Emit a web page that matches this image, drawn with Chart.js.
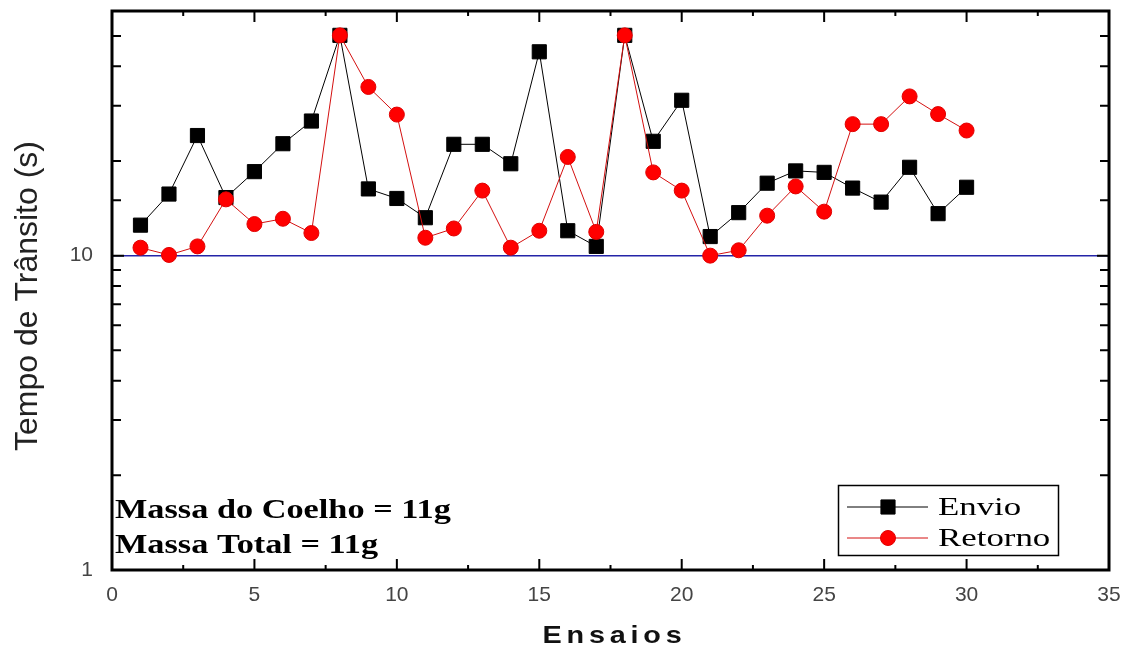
<!DOCTYPE html>
<html>
<head>
<meta charset="utf-8">
<title>Tempo de Trânsito</title>
<script src="https://cdn.jsdelivr.net/npm/chart.js@4.4.0/dist/chart.umd.min.js"></script>
<style>
    html, body { margin: 0; padding: 0; background: #fff; }
    canvas { display: block; }
</style>
</head>
<body>
<canvas id="transitChart" width="1133" height="650"></canvas>
<script>
// Tempo de trânsito por ensaio (eixo Y logarítmico)
const ensaios = [1, 2, 3, 4, 5, 6, 7, 8, 9, 10, 11, 12, 13, 14, 15, 16, 17, 18, 19, 20, 21, 22, 23, 24, 25, 26, 27, 28, 29, 30];
const envio = [12.5, 15.7, 24.1, 15.3, 18.5, 22.7, 26.8, 50.2, 16.3, 15.2, 13.2, 22.6, 22.6, 19.6, 44.5, 12.0, 10.7, 50.2, 23.1, 31.2, 11.5, 13.7, 17.0, 18.6, 18.4, 16.4, 14.8, 19.1, 13.6, 16.5];
const retorno = [10.6, 10.05, 10.7, 15.1, 12.6, 13.1, 11.8, 50.2, 34.4, 28.1, 11.4, 12.2, 16.1, 10.6, 12.0, 20.6, 11.9, 50.2, 18.4, 16.1, 10.0, 10.4, 13.4, 16.6, 13.8, 26.2, 26.2, 32.1, 28.2, 25.0];

// linha de referência em 10 s
const refX = [0, 35];
const refY = [10, 10];

const xTicks = [0, 5, 10, 15, 20, 25, 30, 35];
const yLabels = [1, 10];
const notas = ['Massa do Coelho = 11g', 'Massa Total = 11g'];

const SANS = '"Liberation Sans", Arial, sans-serif';
const SERIF = '"Liberation Serif", "Times New Roman", serif';

function toPoints(xs, ys) {
    return xs.map((x, i) => ({ x: x, y: ys[i] }));
}

// text stretched horizontally, like the original export
function stretchedText(ctx, text, x, y, sx, align) {
    ctx.save();
    ctx.translate(x, y);
    ctx.scale(sx, 1);
    ctx.textAlign = align || 'left';
    ctx.fillText(text, 0, 0);
    ctx.restore();
}

const framePlugin = {
    id: 'frame',
    afterDraw(chart) {
        const ctx = chart.ctx;
        const area = chart.chartArea;
        const xs = chart.scales.x;
        const ys = chart.scales.y;

        ctx.save();
        ctx.strokeStyle = '#000';

        // inward tick marks
        ctx.lineWidth = 2;
        ctx.beginPath();
        for (let i = 0; i < xTicks.length; i++) {
            const px = xs.getPixelForValue(xTicks[i]);
            ctx.moveTo(px, area.bottom); ctx.lineTo(px, area.bottom - 11);
            ctx.moveTo(px, area.top); ctx.lineTo(px, area.top + 11);
            if (i < xTicks.length - 1) {
                const pm = xs.getPixelForValue((xTicks[i] + xTicks[i + 1]) / 2);
                ctx.moveTo(pm, area.bottom); ctx.lineTo(pm, area.bottom - 5);
                ctx.moveTo(pm, area.top); ctx.lineTo(pm, area.top + 5);
            }
        }
        ys.ticks.forEach(t => {
            const py = ys.getPixelForValue(t.value);
            const len = yLabels.includes(t.value) ? 12 : 9;
            ctx.moveTo(area.left, py); ctx.lineTo(area.left + len, py);
            ctx.moveTo(area.right, py); ctx.lineTo(area.right - len, py);
        });
        ctx.stroke();

        // frame
        ctx.lineWidth = 3;
        ctx.strokeRect(area.left, area.top, area.right - area.left, area.bottom - area.top);

        // axis titles
        ctx.fillStyle = '#111';
        ctx.font = 'bold 24px ' + SANS;
        ctx.letterSpacing = '4px';
        ctx.textBaseline = 'alphabetic';
        stretchedText(ctx, 'Ensaios', (area.left + area.right) / 2 + 4, 643, 1.2, 'center');
        ctx.letterSpacing = '0px';

        ctx.fillStyle = '#222';
        ctx.font = '32px ' + SANS;
        ctx.save();
        ctx.translate(37, 296);
        ctx.rotate(-Math.PI / 2);
        ctx.textAlign = 'center';
        ctx.fillText('Tempo de Trânsito (s)', 0, 0);
        ctx.restore();

        // notes
        ctx.fillStyle = '#000';
        ctx.font = 'bold 27px ' + SERIF;
        notas.forEach((t, i) => stretchedText(ctx, t, 115, 518 + i * 35, 1.27, 'left'));

        // legend
        const lx = 838, ly = 485, lw = 220, lh = 70;
        ctx.strokeStyle = '#000';
        ctx.lineWidth = 1.5;
        ctx.strokeRect(lx + 0.5, ly + 0.5, lw, lh);
        const sets = chart.data.datasets.filter(d => d.label);
        sets.sort((a, b) => a.legendIndex - b.legendIndex);
        sets.forEach((d, i) => {
            const cy = ly + 22 + i * 31;
            ctx.strokeStyle = d.borderColor;
            ctx.lineWidth = 1;
            ctx.beginPath();
            ctx.moveTo(lx + 9, cy);
            ctx.lineTo(lx + 90, cy);
            ctx.stroke();
            ctx.fillStyle = d.pointBackgroundColor;
            ctx.strokeStyle = d.pointBorderColor;
            Chart.helpers.drawPoint(ctx, {
                pointStyle: d.pointStyle,
                radius: d.pointRadius,
                borderWidth: 1
            }, lx + 50, cy);
            ctx.fillStyle = '#000';
            ctx.font = '26px ' + SERIF;
            stretchedText(ctx, d.label, lx + 100, cy + 8, 1.34, 'left');
        });

        ctx.restore();
    }
};

const ctx = document.getElementById('transitChart').getContext('2d');
const transitChart = new Chart(ctx, {
    type: 'line',
    data: {
        datasets: [
            {
                label: 'Envio',
                legendIndex: 0,
                data: toPoints(ensaios, envio),
                borderColor: '#000',
                borderWidth: 1,
                pointStyle: 'rect',
                pointRadius: 10,
                pointBackgroundColor: '#000',
                pointBorderColor: '#000',
                pointBorderWidth: 1,
                tension: 0,
                order: 2
            },
            {
                label: 'Retorno',
                legendIndex: 1,
                data: toPoints(ensaios, retorno),
                borderColor: '#d41010',
                borderWidth: 1,
                pointStyle: 'circle',
                pointRadius: 7.5,
                pointBackgroundColor: '#ff0000',
                pointBorderColor: '#e00000',
                pointBorderWidth: 1,
                tension: 0,
                order: 1
            },
            {
                data: toPoints(refX, refY),
                borderColor: '#2424a8',
                borderWidth: 1.5,
                pointRadius: 0,
                tension: 0,
                order: 3
            }
        ]
    },
    options: {
        responsive: false,
        animation: false,
        layout: {
            padding: { top: 11, right: 24, left: 0, bottom: 0 }
        },
        plugins: {
            legend: { display: false },
            tooltip: { enabled: false }
        },
        scales: {
            x: {
                type: 'linear',
                min: 0,
                max: 35,
                grid: { display: false, drawTicks: false },
                border: { display: false },
                ticks: {
                    stepSize: 5,
                    padding: 13,
                    color: '#444',
                    font: { family: SANS, size: 21 }
                },
                afterFit(scale) {
                    scale.height = 80;
                    scale.paddingLeft = 0;
                    scale.paddingRight = 0;
                }
            },
            y: {
                type: 'logarithmic',
                min: 1,
                max: 60,
                grid: { display: false, drawTicks: false },
                border: { display: false },
                ticks: {
                    autoSkip: false,
                    padding: 19,
                    color: '#444',
                    font: { family: SANS, size: 21 },
                    callback: function(value) {
                        return yLabels.includes(value) ? String(value) : '';
                    }
                },
                afterFit(scale) {
                    scale.width = 112;
                    scale.paddingTop = 0;
                    scale.paddingBottom = 0;
                }
            }
        }
    },
    plugins: [framePlugin]
});
</script>
</body>
</html>
